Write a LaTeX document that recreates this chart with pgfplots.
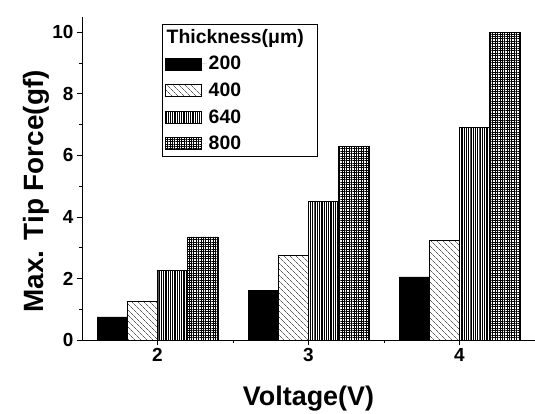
\documentclass[border=0pt]{standalone}
\usepackage{fontspec}
\setmainfont{Liberation Sans}
\usepackage{pgfplots}
\pgfplotsset{compat=1.18}
\usetikzlibrary{patterns.meta}

\newcommand{\fs}[1]{\bfseries\fontsize{#1}{#1}\selectfont}

\begin{document}
\begin{tikzpicture}
\useasboundingbox (-82bp,-74bp) rectangle (453bp,340bp);
\begin{axis}[
    at={(0,0)}, anchor=south west,
    scale only axis,
    width=453bp, height=323bp,
    axis x line*=bottom, axis y line*=left,
    axis line style={line width=1pt},
    xmin=1.5, xmax=4.5,
    ymin=0, ymax=10.5,
    xtick={2,3,4},
    minor xtick={2.5,3.5},
    ytick={0,2,...,10},
    minor y tick num=1,
    tick align=outside,
    major tick length=5bp, minor tick length=3bp,
    tick style={line width=0.9pt, black},
    /pgf/number format/assume math mode=true,
    tick label style={font=\fs{19}},
    xlabel={Voltage(V)},
    ylabel={Max. Tip Force(gf)},
    xlabel style={font=\fs{27}, at={(axis description cs:0.5,-0.18)}, anchor=center},
    ylabel style={font=\fs{28}, at={(axis description cs:-0.1015,0.46)}, anchor=center},
    ybar, bar width=0.2,
    every axis plot/.append style={draw=black, line width=0.6pt},
    legend image code/.code={\draw[#1] (0bp,-6bp) rectangle (36bp,6bp);
        \path[draw=none] (36bp,0bp) -- (41bp,0bp);},
    legend cell align=left,
    legend style={at={(0.177,0.978)}, anchor=north west, draw=black, line width=0.5pt,
        font=\fs{19.5}, row sep=7.5bp, inner sep=3bp},
]
\addlegendimage{empty legend}
\addlegendentry{\hspace*{-42bp}Thickness(μm)\hspace*{8bp}}

\addplot[fill=black, bar shift=-0.3] coordinates {(2,0.75) (3,1.6) (4,2.05)};
\addlegendentry{200}
\addplot[pattern={Lines[angle=-45,distance=4pt,line width=0.5pt]}, bar shift=-0.1] coordinates {(2,1.25) (3,2.75) (4,3.25)};
\addlegendentry{400}
\addplot[pattern={Lines[angle=90,distance=1.8pt,line width=0.6pt]}, bar shift=0.1] coordinates {(2,2.25) (3,4.5) (4,6.9)};
\addlegendentry{640}
\addplot[pattern={Hatch[angle=0,distance=2.4pt,line width=0.45pt]}, bar shift=0.3] coordinates {(2,3.35) (3,6.3) (4,10.0)};
\addlegendentry{800}
\end{axis}
\end{tikzpicture}
\end{document}
